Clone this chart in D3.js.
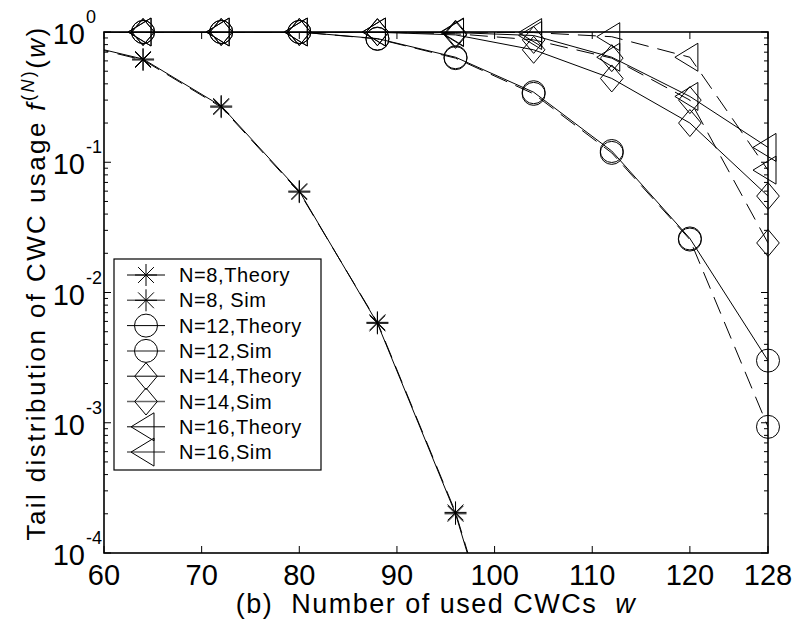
<!DOCTYPE html>
<html>
<head>
<meta charset="utf-8">
<script src="https://cdn.jsdelivr.net/npm/d3@7"></script>
<style>
  body { margin: 0; background: #fff; }
  svg text { font-family: Arial, "Liberation Sans", sans-serif; fill: #000; white-space: pre; }
</style>
</head>
<body>
<div id="chart"></div>
<script>
// number of used CWCs (markers every 8)
var wVals = [56, 64, 72, 80, 88, 96, 104, 112, 120, 128];

// tail distribution values
var n8Theory  = [0.86, 0.62, 0.27, 0.060, 0.0058, 0.00020, 0.000002];
var n8Sim     = [0.85, 0.61, 0.265, 0.059, 0.0059, 0.000205, 0.0000022];
var n12Theory = [1, 1, 1, 1, 0.89, 0.64, 0.345, 0.122, 0.026, 0.0030];
var n12Sim    = [1, 1, 1, 1, 0.885, 0.63, 0.335, 0.118, 0.0255, 0.00093];
var n14Theory = [1, 1, 1, 1, 0.995, 0.95, 0.73, 0.44, 0.20, 0.055];
var n14Sim    = [1, 1, 1, 1, 0.998, 0.97, 0.87, 0.63, 0.30, 0.024];
var n16Theory = [1, 1, 1, 1, 1, 0.99, 0.94, 0.64, 0.32, 0.13];
var n16Sim    = [1, 1, 1, 1, 1, 1, 0.99, 0.92, 0.64, 0.087];

var xTicks = [60, 70, 80, 90, 100, 110, 120, 128];
var yExps = [0, -1, -2, -3, -4];

var series = [
  {label: "N=8,Theory",  vals: n8Theory,  mark: "star",    dash: null},
  {label: "N=8, Sim",    vals: n8Sim,     mark: "star",    dash: "18,9"},
  {label: "N=12,Theory", vals: n12Theory, mark: "circle",  dash: null},
  {label: "N=12,Sim",    vals: n12Sim,    mark: "circle",  dash: "18,9"},
  {label: "N=14,Theory", vals: n14Theory, mark: "diamond", dash: null},
  {label: "N=14,Sim",    vals: n14Sim,    mark: "diamond", dash: "18,9"},
  {label: "N=16,Theory", vals: n16Theory, mark: "tri",     dash: null},
  {label: "N=16,Sim",    vals: n16Sim,    mark: "tri",     dash: "18,9"}
];

var width = 796, height = 624;
var mLeft = 104, mRight = 768, mTop = 32, mBottom = 553;

var svg = d3.select("#chart").append("svg")
  .attr("width", width)
  .attr("height", height);

var x = d3.scaleLinear().domain([60, 128]).range([mLeft, mRight]);
var y = d3.scaleLog().domain([1e-4, 1]).range([mBottom, mTop]);

svg.append("clipPath").attr("id", "clip")
  .append("rect")
  .attr("x", mLeft).attr("y", mTop)
  .attr("width", mRight - mLeft).attr("height", mBottom - mTop);

// marker shapes
function markerPath(kind) {
  var p = d3.path();
  if (kind == "star") {
    var r = 11, q = r * 0.72;
    p.moveTo(-r, 0); p.lineTo(r, 0);
    p.moveTo(0, -r); p.lineTo(0, r);
    p.moveTo(-q, -q); p.lineTo(q, q);
    p.moveTo(-q, q); p.lineTo(q, -q);
  } else if (kind == "circle") {
    p.moveTo(11.5, 0); p.arc(0, 0, 11.5, 0, 2 * Math.PI);
  } else if (kind == "diamond") {
    p.moveTo(0, -13.5); p.lineTo(11.3, 0); p.lineTo(0, 13.5); p.lineTo(-11.3, 0); p.closePath();
  } else {
    p.moveTo(-15, 0); p.lineTo(8, -14); p.lineTo(8, 14); p.closePath();
  }
  return p.toString();
}

var line = d3.line()
  .x(function(d) { return x(d.w); })
  .y(function(d) { return y(d.v); });

var plot = svg.append("g");

series.forEach(function(s) {
  var pts = s.vals.map(function(v, i) { return {w: wVals[i], v: v}; });
  plot.append("path")
    .datum(pts)
    .attr("clip-path", "url(#clip)")
    .attr("d", line)
    .attr("fill", "none")
    .attr("stroke", "#000")
    .attr("stroke-width", 1)
    .attr("stroke-dasharray", s.dash);

  // markers are not clipped, but only those inside the axis range
  plot.selectAll(null)
    .data(pts.filter(function(d) { return d.w >= 60 && d.w <= 128 && d.v >= 1e-4; }))
    .enter()
    .append("path")
    .attr("transform", function(d) { return "translate(" + x(d.w) + "," + y(d.v) + ")"; })
    .attr("d", markerPath(s.mark))
    .attr("fill", "none")
    .attr("stroke", "#000")
    .attr("stroke-width", 1);
});

// axes box
var axisG = svg.append("g");
axisG.append("rect")
  .attr("x", mLeft).attr("y", mTop)
  .attr("width", mRight - mLeft).attr("height", mBottom - mTop)
  .attr("fill", "none")
  .attr("stroke", "#000")
  .attr("stroke-width", 1.6);

// x ticks, top and bottom, inward
xTicks.forEach(function(t) {
  axisG.append("line").attr("x1", x(t)).attr("x2", x(t))
    .attr("y1", mBottom).attr("y2", mBottom - 7).attr("stroke", "#000");
  axisG.append("line").attr("x1", x(t)).attr("x2", x(t))
    .attr("y1", mTop).attr("y2", mTop + 7).attr("stroke", "#000");
  axisG.append("text")
    .attr("x", x(t))
    .attr("y", mBottom + 32)
    .attr("text-anchor", "middle")
    .style("font-size", "29px")
    .text(t);
});

// y ticks, major and minor, both sides
yExps.forEach(function(e) {
  var v = Math.pow(10, e);
  var yy = y(v);
  axisG.append("line").attr("x1", mLeft).attr("x2", mLeft + 7)
    .attr("y1", yy).attr("y2", yy).attr("stroke", "#000");
  axisG.append("line").attr("x1", mRight).attr("x2", mRight - 7)
    .attr("y1", yy).attr("y2", yy).attr("stroke", "#000");
  if (e < 0) {
    for (var k = 2; k <= 9; k++) {
      var ym = y(k * v);
      axisG.append("line").attr("x1", mLeft).attr("x2", mLeft + 4)
        .attr("y1", ym).attr("y2", ym).attr("stroke", "#000");
      axisG.append("line").attr("x1", mRight).attr("x2", mRight - 4)
        .attr("y1", ym).attr("y2", ym).attr("stroke", "#000");
    }
  }
  axisG.append("text")
    .attr("x", mLeft - 19)
    .attr("y", yy + 12)
    .attr("text-anchor", "end")
    .style("font-size", "29px")
    .text("10");
  axisG.append("text")
    .attr("x", mLeft - 18)
    .attr("y", yy - 9)
    .attr("text-anchor", "start")
    .style("font-size", "18px")
    .text(e == 0 ? "0" : String(e));
});

// axis labels
var xl = svg.append("text")
  .attr("x", 436)
  .attr("y", 613)
  .attr("text-anchor", "middle")
  .style("font-size", "27px")
  .style("letter-spacing", "1.5px");
xl.append("tspan").text("(b)  Number of used CWCs  ");
xl.append("tspan").style("font-style", "italic").text("w");

var yl = svg.append("text")
  .attr("transform", "translate(45,283) rotate(-90)")
  .attr("text-anchor", "middle")
  .style("font-size", "26px")
  .style("letter-spacing", "2.4px");
yl.append("tspan").text("Tail distribution of CWC usage ");
yl.append("tspan").style("font-style", "italic").text("f");
yl.append("tspan").attr("dy", -11).style("font-size", "18px").text("(");
yl.append("tspan").style("font-size", "18px").style("font-style", "italic").text("N");
yl.append("tspan").style("font-size", "18px").text(")");
yl.append("tspan").attr("dy", 11).text("(");
yl.append("tspan").style("font-style", "italic").text("w");
yl.append("tspan").text(")");

// legend
var legend = svg.append("g").attr("class", "legend");
legend.append("rect")
  .attr("x", 114).attr("y", 259)
  .attr("width", 207).attr("height", 211)
  .attr("fill", "#fff")
  .attr("stroke", "#000")
  .attr("stroke-width", 1.2);

var item = legend.selectAll("g.item")
  .data(series)
  .enter()
  .append("g")
  .attr("class", "item")
  .attr("transform", function(d, i) { return "translate(146," + (275 + i * 25.3) + ")"; });

item.append("line")
  .attr("x1", -19).attr("x2", 19)
  .attr("stroke", function(d) { return d.dash ? "#666" : "#000"; })
  .attr("stroke-width", function(d) { return d.dash ? 1.5 : 1; });

item.append("path")
  .attr("d", function(d) { return markerPath(d.mark); })
  .attr("fill", "none")
  .attr("stroke", "#000");

item.append("text")
  .attr("x", 33)
  .attr("y", 7)
  .style("font-size", "20px")
  .style("letter-spacing", "0.6px")
  .text(function(d) { return d.label; });
</script>
</body>
</html>
